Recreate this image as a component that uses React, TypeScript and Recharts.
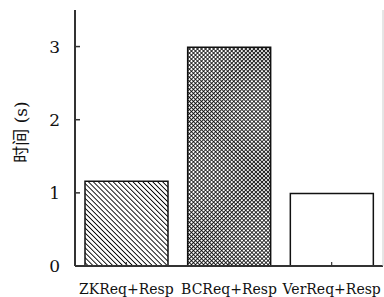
import React from "react";
import { BarChart, Bar, XAxis, YAxis, Cell } from "recharts";

const categories = ["ZKReq+Resp", "BCReq+Resp", "VerReq+Resp"];
const times = [1.16, 2.99, 0.99];
const yTicks = [0, 1, 2, 3];
const fills = ["url(#hatchDiag)", "url(#hatchCross)", "#ffffff"];

const data = categories.map((name, i) => ({ name, value: times[i] }));

const FONT = "DejaVu Serif, Noto Sans CJK SC, serif";

const YTick = (props: any) => {
  const { x, y, payload } = props;
  return (
    <g>
      <line x1={x + 15} y1={y} x2={x + 20} y2={y} stroke="#333" strokeWidth={1.5} />
      <text x={x} y={y} dy={6} textAnchor="end" style={{ fontFamily: FONT, fontSize: 17 }} fill="#111">
        {payload.value}
      </text>
    </g>
  );
};

const XTick = (props: any) => {
  const { x, y, payload } = props;
  return (
    <g>
      <line x1={x} y1={y} x2={x} y2={y - 4} stroke="#333" strokeWidth={1.2} />
      <text x={x} y={y + 28} textAnchor="middle" style={{ fontFamily: FONT, fontSize: 14 }} fill="#111">
        {payload.value}
      </text>
    </g>
  );
};

export default function App() {
  return (
    <div style={{ position: "absolute", left: 0, top: 0, width: 384, height: 297, background: "#fff" }}>
      <svg width={0} height={0} style={{ position: "absolute" }}>
        <defs>
          <pattern id="hatchDiag" patternUnits="userSpaceOnUse" width={3.5} height={3.5} patternTransform="rotate(-45)">
            <rect width={3.5} height={3.5} fill="#fff" />
            <line x1={0} y1={0} x2={0} y2={3.5} stroke="#000" strokeWidth={1.8} />
          </pattern>
          <pattern id="hatchCross" patternUnits="userSpaceOnUse" width={2.85} height={2.85} patternTransform="rotate(45)">
            <rect width={2.85} height={2.85} fill="#fff" />
            <line x1={0} y1={0} x2={0} y2={2.85} stroke="#000" strokeWidth={1.6} />
            <line x1={0} y1={0} x2={2.85} y2={0} stroke="#000" strokeWidth={1.6} />
          </pattern>
        </defs>
      </svg>
      <BarChart
        width={384}
        height={297}
        data={data}
        margin={{ top: 10, right: 0, bottom: 0, left: 0 }}
        barCategoryGap={10}
      >
        <XAxis
          dataKey="name"
          xAxisId="bottom"
          height={31}
          tickSize={0}
          tickMargin={0}
          tick={<XTick />}
          axisLine={{ stroke: "#333", strokeWidth: 2 }}
          tickLine={false}
          interval={0}
        />
        <XAxis
          dataKey="name"
          xAxisId="top"
          orientation="top"
          height={0}
          tick={false}
          tickLine={false}
          axisLine={{ stroke: "#333", strokeWidth: 1.5 }}
        />
        <YAxis
          yAxisId="left"
          width={75}
          domain={[0, 3.5]}
          ticks={yTicks}
          tickSize={0}
          tickMargin={15}
          tick={<YTick />}
          tickLine={false}
          axisLine={{ stroke: "#333", strokeWidth: 2 }}
          label={{
            value: "时间 (s)",
            angle: -90,
            position: "insideLeft",
            offset: 21,
            dy: -6,
            style: { fontFamily: FONT, fontSize: 17, fill: "#111", textAnchor: "middle" },
          }}
        />
        <YAxis
          yAxisId="right"
          orientation="right"
          width={1}
          domain={[0, 3.5]}
          tick={false}
          tickLine={false}
          axisLine={{ stroke: "#ccc", strokeWidth: 1 }}
        />
        <Bar dataKey="value" xAxisId="bottom" yAxisId="left" stroke="#111" strokeWidth={1.5} isAnimationActive={false}>
          {data.map((d, i) => (
            <Cell key={d.name} fill={fills[i]} />
          ))}
        </Bar>
      </BarChart>
    </div>
  );
}
